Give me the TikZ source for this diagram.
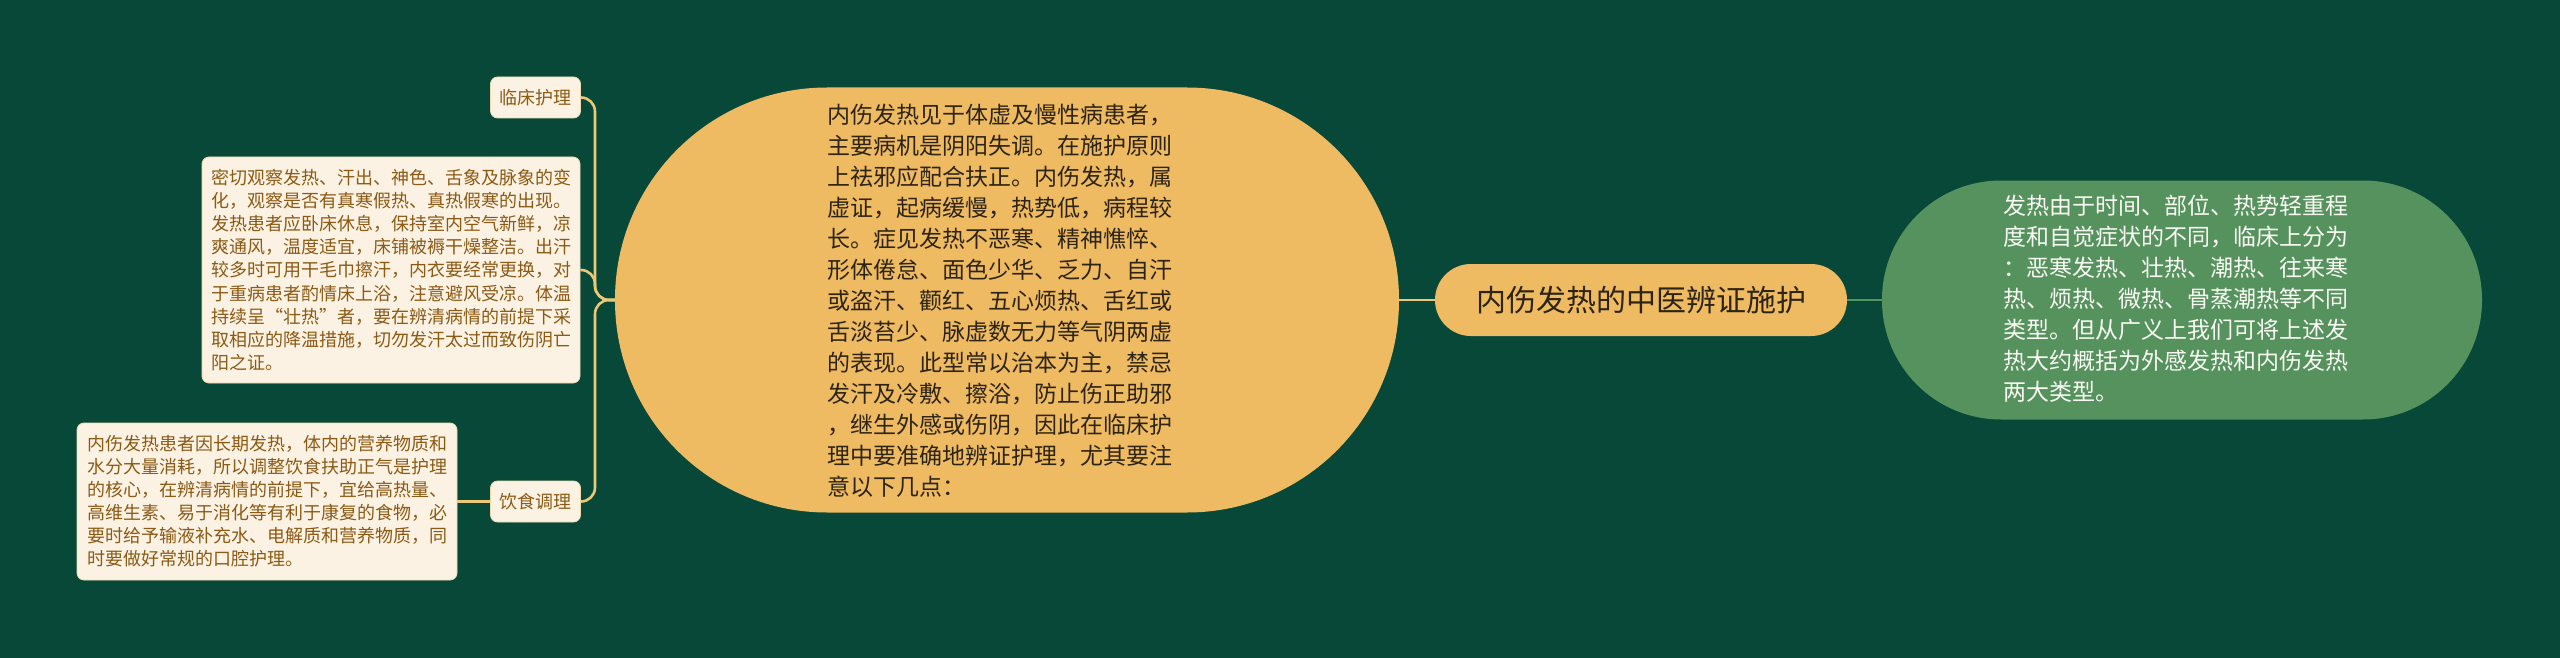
\documentclass[tikz,border=0pt]{standalone}
\usepackage{fontspec}
\newfontfamily\cjk{Noto Sans CJK SC}
\definecolor{bg}{RGB}{7,72,57}
\definecolor{cyellow}{RGB}{238,186,98}
\definecolor{lyellow}{RGB}{236,200,118}
\definecolor{cgreen}{RGB}{86,146,94}
\definecolor{cream}{RGB}{252,242,228}
\definecolor{creamedge}{RGB}{240,218,170}
\definecolor{brown}{RGB}{139,90,20}
\definecolor{darktext}{RGB}{45,36,22}
\definecolor{whitetext}{RGB}{250,250,244}
\tikzset{
  yline/.style={draw=lyellow, line width=2.6pt},
  gline/.style={draw=cgreen, line width=2.6pt},
  leafbox/.style={fill=cream, draw=creamedge, line width=0.8pt, rounded corners=7pt, text=brown, inner sep=0pt},
  bigtext/.style={align=left, inner sep=0pt, font=\cjk\fontsize{23}{31}\selectfont},
}
\begin{document}
\begin{tikzpicture}[x=1pt,y=-1pt]
\useasboundingbox (0,0) rectangle (2560,658);
\fill[bg] (0,0) rectangle (2560,658);

% shapes
\node[fill=cyellow, minimum width=412pt, minimum height=72pt, rounded corners=35.9pt, inner sep=0pt,
      text=darktext, font=\cjk\fontsize{30}{36}\selectfont] (root) at (1641,300) {内伤发热的中医辨证施护};
\node[fill=cyellow, minimum width=784pt, minimum height=425pt, rounded corners=212pt, inner sep=0pt] (yel) at (1007,300) {};
\node[bigtext, text=darktext] (yeltext) at (1000,301) {内伤发热见于体虚及慢性病患者，\\主要病机是阴阳失调。在施护原则\\上祛邪应配合扶正。内伤发热，属\\虚证，起病缓慢，热势低，病程较\\长。症见发热不恶寒、精神憔悴、\\形体倦怠、面色少华、乏力、自汗\\或盗汗、颧红、五心烦热、舌红或\\舌淡苔少、脉虚数无力等气阴两虚\\的表现。此型常以治本为主，禁忌\\发汗及冷敷、擦浴，防止伤正助邪\\，继生外感或伤阴，因此在临床护\\理中要准确地辨证护理，尤其要注\\意以下几点：};

\node[fill=cgreen, minimum width=600pt, minimum height=239pt, rounded corners=119pt, inner sep=0pt] (grn) at (2182,300) {};
\node[bigtext, text=whitetext] (grntext) at (2176,299) {发热由于时间、部位、热势轻重程\\度和自觉症状的不同，临床上分为\\：恶寒发热、壮热、潮热、往来寒\\热、烦热、微热、骨蒸潮热等不同\\类型。但从广义上我们可将上述发\\热大约概括为外感发热和内伤发热\\两大类型。};

\node[leafbox, minimum width=90pt, minimum height=41pt, font=\cjk\fontsize{18}{22}\selectfont] (lc) at (535.5,97.5) {临床护理};
\node[leafbox, minimum width=90pt, minimum height=41pt, font=\cjk\fontsize{18}{22}\selectfont] (ys) at (535.5,501.5) {饮食调理};
\node[leafbox, minimum width=378pt, minimum height=226pt, align=left, font=\cjk\fontsize{18}{23.1}\selectfont] (box1) at (391,270) {密切观察发热、汗出、神色、舌象及脉象的变\\化，观察是否有真寒假热、真热假寒的出现。\\发热患者应卧床休息，保持室内空气新鲜，凉\\爽通风，温度适宜，床铺被褥干燥整洁。出汗\\较多时可用干毛巾擦汗，内衣要经常更换，对\\于重病患者酌情床上浴，注意避风受凉。体温\\持续呈“壮热”者，要在辨清病情的前提下采\\取相应的降温措施，切勿发汗太过而致伤阴亡\\阳之证。};
\node[leafbox, minimum width=380pt, minimum height=157pt, align=left, font=\cjk\fontsize{18}{23}\selectfont] (box2) at (267,501.5) {内伤发热患者因长期发热，体内的营养物质和\\水分大量消耗，所以调整饮食扶助正气是护理\\的核心，在辨清病情的前提下，宜给高热量、\\高维生素、易于消化等有利于康复的食物，必\\要时给予输液补充水、电解质和营养物质，同\\时要做好常规的口腔护理。};

% connectors
\coordinate (jn) at (595,300);
\draw[yline] (root.west) -- (yel.east);
\draw[gline] (root.east) -- (grn.west);
\draw[yline, rounded corners=14pt] (yel.west) -- (jn) |- (lc.east);
\draw[yline, rounded corners=14pt] (yel.west) -- (jn) |- (box1.east);
\draw[yline, rounded corners=14pt] (yel.west) -- (jn) |- (ys.east);
\draw[yline] (box2.east) -- (ys.west);
\end{tikzpicture}
\end{document}
